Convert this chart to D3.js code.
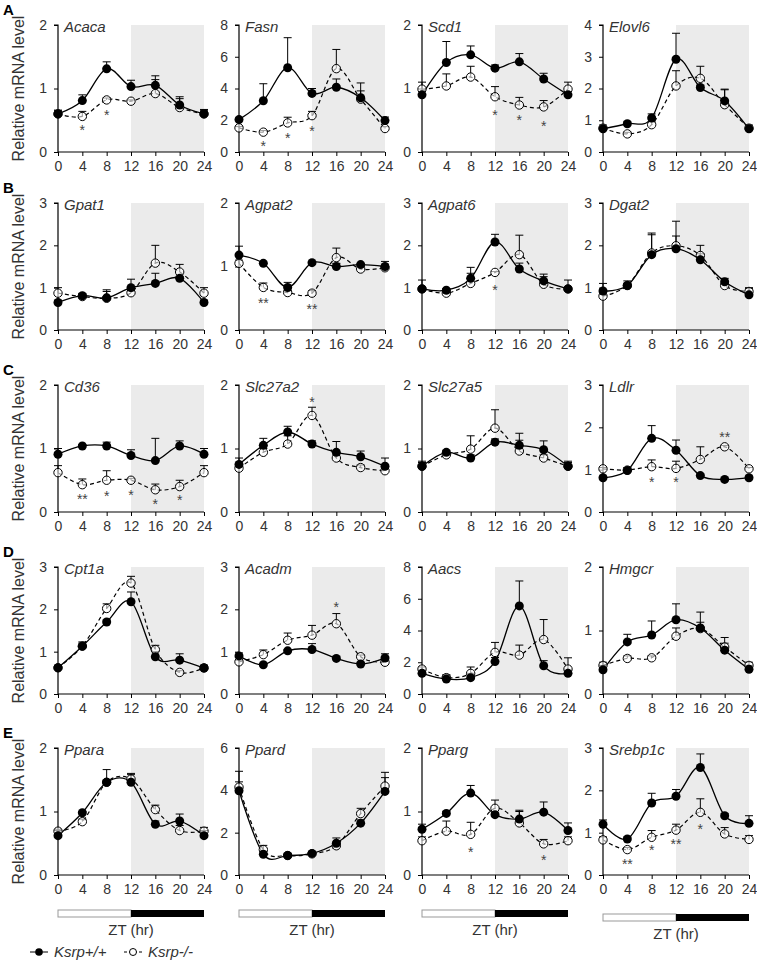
<!DOCTYPE html>
<html><head><meta charset="utf-8">
<script src="https://cdnjs.cloudflare.com/ajax/libs/d3/7.8.5/d3.min.js"></script>
<style>body{margin:0;background:#fff}svg{display:block;font-family:"Liberation Sans",Arial,sans-serif}</style>
</head><body><svg id="c" width="757" height="965"></svg>
<script>
const times = [0,4,8,12,16,20,24];
const xTicks = [0,4,8,12,16,20,24];
const rowLetters = ["A","B","C","D","E"];
const genes = ["Acaca","Fasn","Scd1","Elovl6","Gpat1","Agpat2","Agpat6","Dgat2","Cd36","Slc27a2","Slc27a5","Ldlr","Cpt1a","Acadm","Aacs","Hmgcr","Ppara","Ppard","Pparg","Srebp1c"];
const yMaxes = [2,8,2,4, 3,2,3,3, 2,2,2,3, 3,3,8,2, 2,6,2,3];
const yStep  = [1,2,1,1, 1,1,1,1, 1,1,1,1, 1,1,2,1, 1,2,1,1];

// WT = Ksrp+/+, KO = Ksrp-/-; *Hi = top of error bar; *Sig = [ZT, label, y-position value]
const acacaWT=[0.60,0.81,1.31,1.03,1.05,0.74,0.60], acacaWThi=[0.66,0.90,1.42,1.13,1.20,0.87,0.67];
const acacaKO=[0.60,0.56,0.82,0.80,0.92,0.70,0.60], acacaKOhi=[0.65,0.64,0.85,0.82,1.14,0.84,0.65];
const acacaSig=[[4,"*",0.38],[8,"*",0.61]];
const fasnWT=[2.04,3.23,5.31,3.69,4.08,3.42,1.98], fasnWThi=[2.15,4.30,7.20,4.00,4.60,4.35,2.2];
const fasnKO=[1.52,1.25,1.83,2.29,5.25,3.33,1.48], fasnKOhi=[1.6,1.35,2.19,2.56,6.46,3.85,1.6];
const fasnSig=[[4,"*",0.48],[8,"*",0.98],[12,"*",1.46]];
const scd1WT=[0.90,1.41,1.53,1.32,1.42,1.15,0.90], scd1WThi=[0.95,1.74,1.67,1.37,1.55,1.24,0.95];
const scd1KO=[0.99,1.04,1.18,0.87,0.74,0.71,0.99], scd1KOhi=[1.1,1.23,1.35,1.03,0.86,0.81,1.1];
const scd1Sig=[[12,"*",0.61],[16,"*",0.53],[20,"*",0.44]];
const elovl6WT=[0.73,0.89,1.07,2.92,2.03,1.61,0.73], elovl6WThi=[0.85,0.95,1.2,3.74,2.1,1.98,0.82];
const elovl6KO=[0.75,0.57,0.86,2.08,2.32,1.49,0.75], elovl6KOhi=[0.8,0.62,0.95,2.56,2.70,1.96,0.85];
const elovl6Sig=[];
const gpat1WT=[0.65,0.81,0.76,1.0,1.10,1.22,0.65], gpat1WThi=[0.7,0.86,0.91,1.2,1.34,1.26,0.7];
const gpat1KO=[0.87,0.79,0.75,0.88,1.58,1.37,0.87], gpat1KOhi=[1.0,0.85,0.95,0.92,2.0,1.55,1.0];
const gpat1Sig=[];
const agpat2WT=[1.18,1.05,0.67,1.06,1.0,1.03,1.0], agpat2WThi=[1.32,1.07,0.75,1.07,1.05,1.05,1.08];
const agpat2KO=[1.05,0.67,0.59,0.58,1.14,0.96,0.98], agpat2KOhi=[1.1,0.74,0.62,0.62,1.29,1.0,1.02];
const agpat2Sig=[[4,"**",0.45],[12,"**",0.37]];
const agpat6WT=[0.97,0.94,1.22,2.08,1.44,1.16,0.97], agpat6WThi=[1.18,0.98,1.48,2.26,1.58,1.32,1.18];
const agpat6KO=[0.97,0.87,1.10,1.36,1.78,1.08,0.97], agpat6KOhi=[1.0,0.9,1.34,1.38,2.24,1.26,1.0];
const agpat6Sig=[[12,"*",1.0]];
const dgat2WT=[0.92,1.05,1.78,1.92,1.66,1.14,0.83], dgat2WThi=[1.1,1.16,2.25,2.22,2.0,1.22,1.0];
const dgat2KO=[0.80,1.05,1.82,1.99,1.76,1.05,0.91], dgat2KOhi=[0.85,1.1,2.29,2.57,1.8,1.1,0.98];
const dgat2Sig=[];
const cd36WT=[0.91,1.04,1.04,0.89,0.81,1.04,0.91], cd36WThi=[1.0,1.06,1.1,0.98,1.16,1.12,1.0];
const cd36KO=[0.62,0.43,0.50,0.50,0.35,0.40,0.62], cd36KOhi=[0.73,0.52,0.65,0.53,0.44,0.50,0.73];
const cd36Sig=[[4,"**",0.24],[8,"*",0.29],[12,"*",0.30],[16,"*",0.15],[20,"*",0.22]];
const slc27a2WT=[0.75,1.05,1.26,1.07,0.94,0.87,0.72], slc27a2WThi=[0.85,1.16,1.35,1.12,1.11,0.96,0.85];
const slc27a2KO=[0.69,0.94,1.07,1.52,0.85,0.70,0.65], slc27a2KOhi=[0.72,1.0,1.2,1.65,0.9,0.74,0.72];
const slc27a2Sig=[[12,"*",1.76]];
const slc27a5WT=[0.72,0.94,0.85,1.10,1.05,0.98,0.72], slc27a5WThi=[0.8,0.97,0.9,1.15,1.24,1.12,0.8];
const slc27a5KO=[0.72,0.90,0.99,1.32,0.96,0.85,0.72], slc27a5KOhi=[0.78,0.93,1.2,1.61,1.13,0.9,0.78];
const slc27a5Sig=[];
const ldlrWT=[0.81,0.98,1.74,1.46,0.86,0.77,0.81], ldlrWThi=[0.85,1.0,2.04,1.7,0.9,0.8,0.85];
const ldlrKO=[1.02,0.99,1.07,1.03,1.24,1.54,1.02], ldlrKOhi=[1.05,1.05,1.23,1.2,1.54,1.57,1.05];
const ldlrSig=[[8,"*",0.76],[12,"*",0.76],[20,"**",1.82]];
const cpt1aWT=[0.62,1.13,1.70,2.18,0.88,0.80,0.61], cpt1aWThi=[0.68,1.23,1.75,2.41,1.0,0.95,0.68];
const cpt1aKO=[0.62,1.13,2.02,2.62,1.05,0.51,0.62], cpt1aKOhi=[0.66,1.2,2.13,2.78,1.15,0.55,0.68];
const cpt1aSig=[];
const acadmWT=[0.90,0.69,1.02,1.05,0.84,0.71,0.85], acadmWThi=[0.97,0.72,1.05,1.19,0.88,0.75,0.95];
const acadmKO=[0.76,0.93,1.27,1.39,1.66,0.88,0.75], acadmKOhi=[0.8,1.04,1.44,1.62,1.90,0.92,0.8];
const acadmSig=[[16,"*",2.10]];
const aacsWT=[1.30,0.94,1.03,2.04,5.55,1.78,1.30], aacsWThi=[1.5,1.2,1.3,2.3,7.12,2.1,1.5];
const aacsKO=[1.57,1.03,1.30,2.62,2.45,3.43,1.57], aacsKOhi=[1.7,1.2,1.7,3.25,3.08,4.69,2.28];
const aacsSig=[];
const hmgcrWT=[0.38,0.82,0.93,1.17,1.04,0.69,0.39], hmgcrWThi=[0.45,0.94,1.15,1.42,1.29,0.89,0.45];
const hmgcrKO=[0.45,0.56,0.57,0.91,1.03,0.74,0.45], hmgcrKOhi=[0.5,0.6,0.6,1.04,1.13,0.8,0.5];
const hmgcrSig=[];
const pparaWT=[0.62,0.98,1.46,1.46,0.80,0.85,0.62], pparaWThi=[0.7,1.0,1.66,1.6,0.85,0.96,0.7];
const pparaKO=[0.69,0.84,1.46,1.51,1.03,0.70,0.69], pparaKOhi=[0.72,0.88,1.5,1.58,1.1,0.78,0.75];
const pparaSig=[];
const ppardWT=[3.98,0.98,0.92,1.02,1.5,2.45,3.95], ppardWThi=[4.9,1.1,1.0,1.1,1.75,2.6,4.6];
const ppardKO=[4.15,1.2,0.92,1.0,1.38,2.9,4.2], ppardKOhi=[4.4,1.4,0.95,1.05,1.45,3.15,4.85];
const ppardSig=[];
const ppargWT=[0.72,0.97,1.29,0.95,0.88,0.99,0.70], ppargWThi=[0.8,1.0,1.41,0.98,1.02,1.15,0.82];
const ppargKO=[0.54,0.69,0.64,1.05,0.82,0.49,0.54], ppargKOhi=[0.6,0.85,0.83,1.18,1.0,0.56,0.6];
const ppargSig=[[8,"*",0.40],[20,"*",0.26]];
const srebp1cWT=[1.2,0.85,1.70,1.86,2.54,1.40,1.22], srebp1cWThi=[1.3,0.9,1.93,2.02,2.86,1.45,1.4];
const srebp1cKO=[0.83,0.6,0.89,1.06,1.48,0.97,0.84], srebp1cKOhi=[0.9,0.65,1.05,1.2,1.8,1.12,0.93];
const srebp1cSig=[[4,"**",0.31],[8,"*",0.63],[12,"**",0.77],[16,"*",1.14]];

const wtList=[acacaWT,fasnWT,scd1WT,elovl6WT,gpat1WT,agpat2WT,agpat6WT,dgat2WT,cd36WT,slc27a2WT,slc27a5WT,ldlrWT,cpt1aWT,acadmWT,aacsWT,hmgcrWT,pparaWT,ppardWT,ppargWT,srebp1cWT];
const wtHiList=[acacaWThi,fasnWThi,scd1WThi,elovl6WThi,gpat1WThi,agpat2WThi,agpat6WThi,dgat2WThi,cd36WThi,slc27a2WThi,slc27a5WThi,ldlrWThi,cpt1aWThi,acadmWThi,aacsWThi,hmgcrWThi,pparaWThi,ppardWThi,ppargWThi,srebp1cWThi];
const koList=[acacaKO,fasnKO,scd1KO,elovl6KO,gpat1KO,agpat2KO,agpat6KO,dgat2KO,cd36KO,slc27a2KO,slc27a5KO,ldlrKO,cpt1aKO,acadmKO,aacsKO,hmgcrKO,pparaKO,ppardKO,ppargKO,srebp1cKO];
const koHiList=[acacaKOhi,fasnKOhi,scd1KOhi,elovl6KOhi,gpat1KOhi,agpat2KOhi,agpat6KOhi,dgat2KOhi,cd36KOhi,slc27a2KOhi,slc27a5KOhi,ldlrKOhi,cpt1aKOhi,acadmKOhi,aacsKOhi,hmgcrKOhi,pparaKOhi,ppardKOhi,ppargKOhi,srebp1cKOhi];
const sigList=[acacaSig,fasnSig,scd1Sig,elovl6Sig,gpat1Sig,agpat2Sig,agpat6Sig,dgat2Sig,cd36Sig,slc27a2Sig,slc27a5Sig,ldlrSig,cpt1aSig,acadmSig,aacsSig,hmgcrSig,pparaSig,ppardSig,ppargSig,srebp1cSig];
const legendLabels=["Ksrp+/+","Ksrp-/-"];

const svg=d3.select("#c");
const colX=[58,239,422,603], rowY=[25,203,385,567,748];
const PW=146, PH=127;
const TXT="#333";

rowLetters.forEach((L,r)=>{
  svg.append("text").attr("x",3).attr("y",rowY[r]-10).attr("font-size",15).attr("font-weight","bold").attr("fill","#000").text(L);
  svg.append("text").attr("transform",`translate(24,${rowY[r]+PH/2}) rotate(-90)`).attr("text-anchor","middle")
    .attr("font-size",16).attr("fill",TXT).text("Relative mRNA level");
});

genes.forEach((g,i)=>{
  const r=Math.floor(i/4), c=i%4;
  const x0=colX[c], y0=rowY[r];
  const gg=svg.append("g");
  const x=d3.scaleLinear().domain([0,24]).range([x0,x0+PW]);
  const y=d3.scaleLinear().domain([0,yMaxes[i]]).range([y0+PH,y0]);
  // dark phase shading
  gg.append("rect").attr("x",x(12)).attr("y",y(yMaxes[i])).attr("width",x(24)-x(12)).attr("height",y(0)-y(yMaxes[i])).attr("fill","#ebebeb");
  // axes
  const yt=d3.range(0,yMaxes[i]+0.001,yStep[i]);
  const ya=gg.append("g").attr("transform",`translate(${x0},0)`).call(d3.axisLeft(y).tickValues(yt).tickFormat(d3.format("d")).tickSize(4).tickPadding(7));
  const xa=gg.append("g").attr("transform",`translate(0,${y0+PH})`).call(d3.axisBottom(x).tickValues(xTicks).tickSize(4).tickPadding(5));
  [ya,xa].forEach(a=>{a.select(".domain").attr("stroke","#000").attr("stroke-width",1.2);
    a.selectAll(".tick line").attr("stroke","#000");
    a.selectAll("text").attr("font-size",14).attr("fill",TXT).attr("font-family","'Liberation Sans',Arial,sans-serif");});
  ya.select(".domain").attr("d",`M-4,${y(yMaxes[i])}H0V${y(0)}`);
  xa.select(".domain").attr("d",`M${x(0)},0H${x(24)}`);
  // title
  gg.append("text").attr("x",x0+6).attr("y",y0+7).attr("font-size",15).attr("font-style","italic").attr("fill",TXT).text(g);
  const line=d3.line().x((d,k)=>x(times[k])).y(d=>y(d)).curve(d3.curveCardinal.tension(0));
  const series=[{v:wtList[i],hi:wtHiList[i],filled:true},{v:koList[i],hi:koHiList[i],filled:false}];
  // error bars
  series.slice().reverse().forEach(s=>{
    s.v.forEach((v,k)=>{
      const h=s.hi[k]; if(h<=v) return;
      const xx=x(times[k]);
      gg.append("line").attr("x1",xx).attr("x2",xx).attr("y1",y(v)).attr("y2",y(h)).attr("stroke","#000").attr("stroke-width",1);
      gg.append("line").attr("x1",xx-4).attr("x2",xx+4).attr("y1",y(h)).attr("y2",y(h)).attr("stroke","#000").attr("stroke-width",1);
    });
  });
  // lines: KO first then WT
  gg.append("path").attr("d",line(koList[i])).attr("fill","none").attr("stroke","#000").attr("stroke-width",1.2).attr("stroke-dasharray","4,3");
  gg.append("path").attr("d",line(wtList[i])).attr("fill","none").attr("stroke","#000").attr("stroke-width",1.3);
  // markers
  koList[i].forEach((v,k)=>gg.append("circle").attr("cx",x(times[k])).attr("cy",y(v)).attr("r",4.2).attr("fill","#fff").attr("fill-opacity",0.6).attr("stroke","#000").attr("stroke-width",1));
  wtList[i].forEach((v,k)=>gg.append("circle").attr("cx",x(times[k])).attr("cy",y(v)).attr("r",4.5).attr("fill","#000"));
  // significance
  sigList[i].forEach(s=>gg.append("text").attr("x",x(s[0])).attr("y",y(s[2])+7).attr("text-anchor","middle").attr("font-size",14).attr("fill","#444").text(s[1]));
  // light/dark bar + ZT label (bottom row)
  if(r===4){
    const by = c===3 ? 914 : 910;
    gg.append("rect").attr("x",x(0)).attr("y",by).attr("width",x(12)-x(0)).attr("height",7).attr("fill","#fff").attr("stroke","#999").attr("stroke-width",1);
    gg.append("rect").attr("x",x(12)).attr("y",by).attr("width",x(24)-x(12)).attr("height",7).attr("fill","#000");
    gg.append("text").attr("x",x(12)).attr("y",by+25).attr("text-anchor","middle").attr("font-size",15).attr("fill",TXT).text("ZT (hr)");
  }
});

// legend
const lg=svg.append("g");
[[30,true],[124,false]].forEach(([lx,filled],j)=>{
  lg.append("line").attr("x1",lx).attr("x2",lx+18).attr("y1",952).attr("y2",952).attr("stroke","#000").attr("stroke-width",1).attr("stroke-dasharray",filled?null:"3,2");
  lg.append("circle").attr("cx",lx+9).attr("cy",952).attr("r",filled?3.8:3.5).attr("fill",filled?"#000":"#fff").attr("stroke",filled?null:"#000");
  lg.append("text").attr("x",lx+24).attr("y",957).attr("font-size",15).attr("font-style","italic").attr("fill",TXT).text(legendLabels[j]);
});
</script></body></html>
